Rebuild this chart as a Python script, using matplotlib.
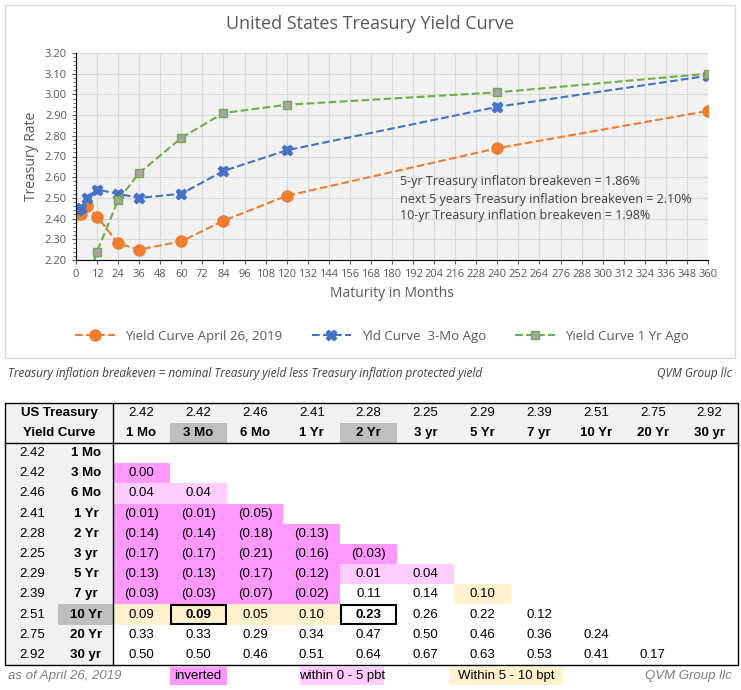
import matplotlib
matplotlib.use("Agg")
import matplotlib.pyplot as plt
from matplotlib.patches import Rectangle
from matplotlib.lines import Line2D
import numpy as np

plt.rcParams['font.family'] = ['Open Sans', 'DejaVu Sans']

months = [1, 3, 6, 12, 24, 36, 60, 84, 120, 240, 360]
labels = ['1 Mo', '3 Mo', '6 Mo', '1 Yr', '2 Yr', '3 yr', '5 Yr', '7 yr', '10 Yr', '20 Yr', '30 yr']
yld_now = [2.42, 2.42, 2.46, 2.41, 2.28, 2.25, 2.29, 2.39, 2.51, 2.75, 2.92]
yld_now_plot = [2.42, 2.42, 2.46, 2.41, 2.28, 2.25, 2.29, 2.39, 2.51, 2.74, 2.92]
yld_3mo = [2.44, 2.45, 2.50, 2.54, 2.52, 2.50, 2.52, 2.63, 2.73, 2.94, 3.09]
yld_1yr = [1.67, 1.83, 2.08, 2.24, 2.49, 2.62, 2.79, 2.91, 2.95, 3.01, 3.10]

W, H = 741, 690
fig = plt.figure(figsize=(W/100, H/100), dpi=100)

def fx(x): return x / W
def fy(y): return 1 - y / H

fig.patches.append(Rectangle((fx(5), fy(358)), fx(730), 353/H, transform=fig.transFigure,
                             fill=False, ec='#D9D9D9', lw=1))
fig.text(fx(370), fy(24), 'United States Treasury Yield Curve', ha='center', va='center',
         fontsize=13, color='#595959')

ax = fig.add_axes([fx(76), fy(260), fx(632), (260-53)/H])
ax.set_facecolor('#F2F2F2')
ax.plot(months, yld_now_plot, '--', color='#ED7D31', lw=1.5, marker='o', ms=8,
        label='Yield Curve April 26, 2019')
ax.plot(months, yld_3mo, '--', color='#4472C4', lw=1.5, marker='X', ms=7.5,
        label='Yld Curve  3-Mo Ago')
ax.plot(months, yld_1yr, '--', color='#70AD47', lw=1.5, marker='s', ms=5.5,
        mfc='#A5A5A5', mec='#70AD47', label='Yield Curve 1 Yr Ago')
ax.set_xlim(0, 360)
ax.set_ylim(2.20, 3.20)
ax.set_xticks(np.arange(0, 361, 12))
ax.set_yticks(np.arange(2.20, 3.201, 0.10))
ax.set_yticks(np.arange(2.20, 3.20, 0.02), minor=True)
ax.set_yticklabels([f'{v:.2f}' for v in np.arange(2.20, 3.201, 0.10)])
ax.tick_params(labelsize=8, colors='#595959', length=3)
ax.tick_params(axis='y', which='minor', length=2, color='#595959')
ax.grid(True, color='#D9D9D9', lw=0.8)
ax.set_axisbelow(True)
for s in ['top', 'right']:
    ax.spines[s].set_visible(False)
ax.spines['left'].set_color('black')
ax.spines['bottom'].set_color('black')
ax.set_xlabel('Maturity in Months', fontsize=10, color='#595959')
ax.set_ylabel('Treasury Rate', fontsize=10, color='#595959')
for i, t in enumerate(['5-yr Treasury inflaton breakeven = 1.86%',
                       'next 5 years Treasury inflation breakeven = 2.10%',
                       '10-yr Treasury inflation breakeven = 1.98%']):
    fig.text(fx(400), fy(182 + 17*i), t, fontsize=9, color='#404040', va='center')
fig.legend(loc='center', bbox_to_anchor=(fx(382), fy(336)), ncol=3, frameon=False,
           fontsize=9.5, labelcolor='#595959', handlelength=3, columnspacing=2.2)

fig.text(fx(8), fy(373), 'Treasury inflation breakeven = nominal Treasury yield less Treasury inflation protected yield',
         fontsize=8.5, style='italic', color='#404040', va='center')
fig.text(fx(732), fy(373), 'QVM Group llc', fontsize=8.5, style='italic', color='#404040',
         va='center', ha='right')

x0, xl, x1 = 5, 113, 738
cw = (x1 - xl) / 11
ty0, thdr = 403, 443
rh = (665 - 443) / 11

def rect(x, y, w, h, fc, ec='none', lw=0):
    fig.patches.append(Rectangle((fx(x), fy(y + h)), w/W, h/H, transform=fig.transFigure,
                                 fc=fc, ec=ec, lw=lw))

def txt(x, y, s, ha='center', bold=False, color='black', size=9.5, style='normal'):
    fig.text(fx(x), fy(y), s, ha=ha, va='center', fontsize=size, color=color,
             fontweight='bold' if bold else 'normal', style=style,
             family=['Liberation Sans Narrow', 'Liberation Sans', 'DejaVu Sans'])

rect(x0, ty0, xl - x0, 665 - ty0, '#F2F2F2')
rect(xl, ty0, x1 - xl, thdr - ty0, '#F2F2F2')
for j in (1, 4):
    rect(xl + j*cw, ty0 + 20, cw, 20, '#BFBFBF')
rect(58, thdr + 8*rh, xl - 58, rh, '#BFBFBF')
txt(59, 413, 'US Treasury', bold=True)
txt(59, 433, 'Yield Curve', bold=True)
for j in range(11):
    cx = xl + (j + 0.5) * cw
    txt(cx, 413, f'{yld_now[j]:.2f}')
    txt(cx, 433, labels[j], bold=True)

for i in range(11):
    cy = thdr + (i + 0.5) * rh
    txt(32, cy, f'{yld_now[i]:.2f}')
    txt(86, cy, labels[i], bold=True)
    for j in range(i):
        d = round(yld_now[i] - yld_now[j], 2)
        if d <= 0:
            fc = '#FF99FF'
        elif d < 0.05:
            fc = '#FFCCFF'
        elif d <= 0.10:
            fc = '#FFF2CC'
        else:
            fc = 'white'
        xc = xl + j * cw
        rect(xc, thdr + i * rh, cw, rh, fc)
        s = f'({abs(d):.2f})' if d < 0 else f'{d:.2f}'
        boxed = (i == 8 and j in (1, 4))
        if boxed:
            rect(xc + 1, thdr + i * rh + 1, cw - 2, rh - 2, 'none', ec='black', lw=1.5)
        txt(xc + cw/2, cy, s, bold=boxed)

fig.patches.append(Rectangle((fx(x0), fy(665)), (x1 - x0)/W, (665 - ty0)/H, transform=fig.transFigure,
                             fill=False, ec='black', lw=1))
fig.lines.append(Line2D([fx(x0), fx(x1)], [fy(thdr)]*2, transform=fig.transFigure, color='black', lw=1))
fig.lines.append(Line2D([fx(xl)]*2, [fy(ty0), fy(665)], transform=fig.transFigure, color='black', lw=1))

ly = 676
txt(8, ly, 'as of April 26, 2019', ha='left', color='#808080', style='italic', size=9.5)
rect(xl + cw, ly - 9, cw, 18, '#FF99FF')
txt(xl + 1.5*cw, ly, 'inverted')
rect(xl + 4*cw - 40, ly - 9, 84, 18, '#FFCCFF')
txt(xl + 4*cw + 2, ly, 'within 0 - 5 pbt')
rect(xl + 6*cw - 4, ly - 9, 113, 18, '#FFF2CC')
txt(xl + 7*cw - 4, ly, 'Within 5 - 10 bpt')
txt(732, ly, 'QVM Group llc', ha='right', color='#808080', style='italic', size=9.5)

fig.savefig('out.png', dpi=100)
